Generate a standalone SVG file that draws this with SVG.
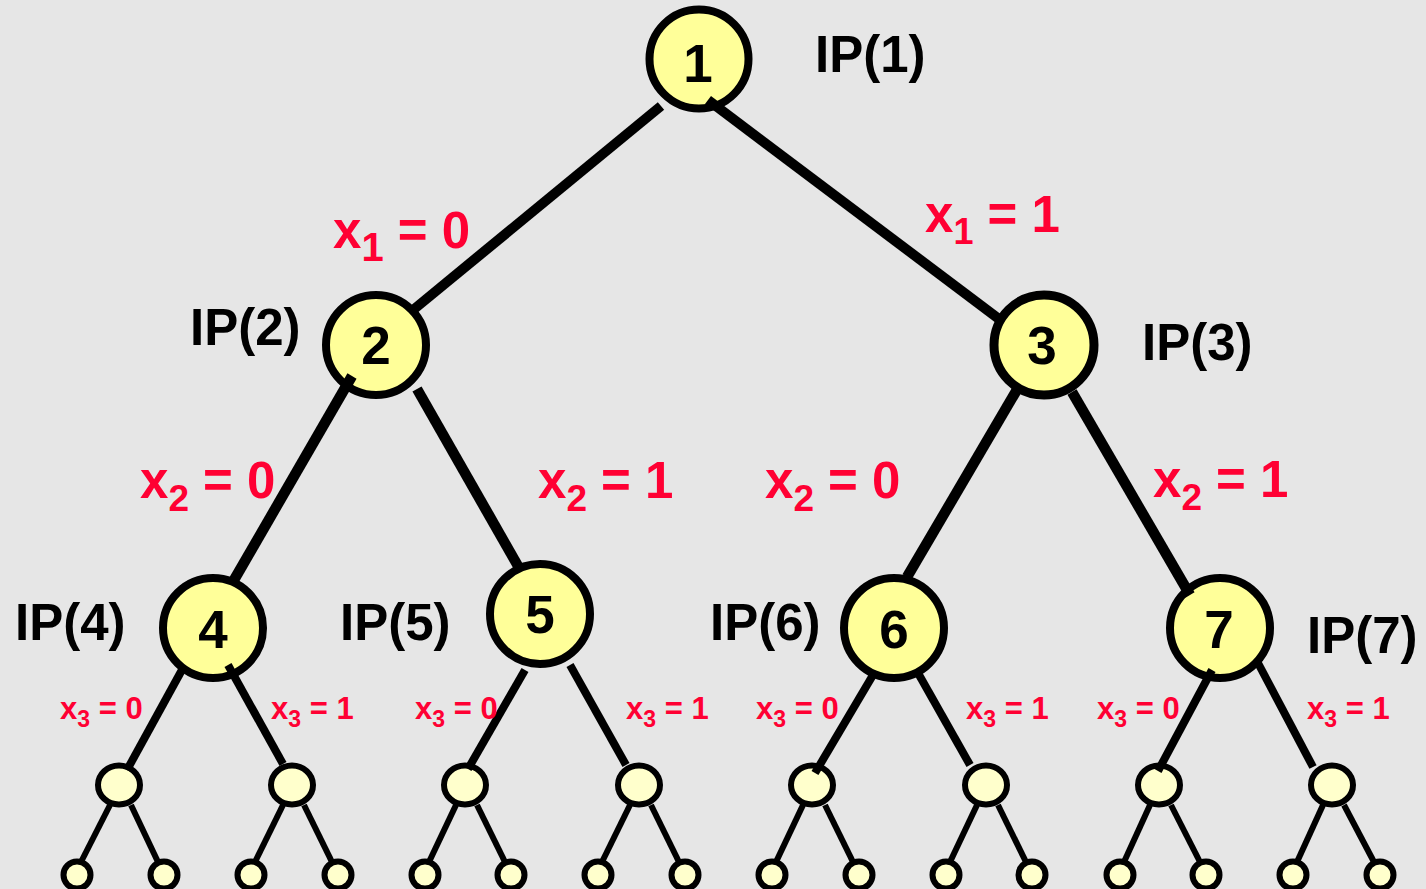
<svg xmlns="http://www.w3.org/2000/svg" width="1426" height="889" viewBox="0 0 1426 889">
<style>
.bg{fill:#e6e6e6}
.big{fill:#ffff99;stroke:#000;stroke-width:8}
.mid{fill:#ffffcc;stroke:#000;stroke-width:6}
.leaf{fill:#ffffcc;stroke:#000;stroke-width:6}
.num{font-family:"Liberation Sans",Arial,sans-serif;font-weight:bold;font-size:53px;fill:#000;text-anchor:middle}
.ip{font-family:"Liberation Sans",Arial,sans-serif;font-weight:bold;font-size:51px;fill:#000}
.lab{font-family:"Liberation Sans",Arial,sans-serif;font-weight:bold;font-size:51px;fill:#ff0033;white-space:pre}
.lab3{font-family:"Liberation Sans",Arial,sans-serif;font-weight:bold;font-size:31px;fill:#ff0033;white-space:pre}
.e1{stroke:#000;stroke-width:10;fill:none}
.e2{stroke:#000;stroke-width:10.5;fill:none}
.e3{stroke:#000;stroke-width:8;fill:none}
.e4{stroke:#000;stroke-width:6;fill:none}
</style>
<rect class="bg" x="0" y="0" width="1426" height="889"/>

<g id="node1"><circle class="big" cx="699" cy="59" r="49.5"/><text class="num" x="698" y="82">1</text></g>
<g id="node2"><circle class="big" cx="376" cy="345" r="50"/><text class="num" x="376" y="364">2</text></g>
<g id="node3"><circle class="big" cx="1044" cy="345" r="50" style="stroke-width:9"/><text class="num" x="1042" y="364">3</text></g>
<g id="node4"><circle class="big" cx="213" cy="628" r="50"/><text class="num" x="213" y="648">4</text></g>
<g id="node5"><circle class="big" cx="540" cy="614" r="50"/><text class="num" x="540" y="633">5</text></g>
<g id="node6"><circle class="big" cx="894" cy="628" r="50"/><text class="num" x="894" y="648">6</text></g>
<g id="node7"><circle class="big" cx="1220" cy="628" r="50"/><text class="num" x="1219" y="648">7</text></g>

<g id="level4">
<ellipse class="mid" cx="119" cy="785" rx="21" ry="19.5"/>
<ellipse class="mid" cx="292" cy="785" rx="21" ry="19.5"/>
<ellipse class="mid" cx="465" cy="785" rx="21" ry="19.5"/>
<ellipse class="mid" cx="639" cy="785" rx="21" ry="19.5"/>
<ellipse class="mid" cx="812" cy="785" rx="21" ry="19.5"/>
<ellipse class="mid" cx="986" cy="785" rx="21" ry="19.5"/>
<ellipse class="mid" cx="1159" cy="785" rx="21" ry="19.5"/>
<ellipse class="mid" cx="1332" cy="785" rx="21" ry="19.5"/>
</g>
<g id="leaves">
<circle class="leaf" cx="77" cy="875" r="13.5"/>
<circle class="leaf" cx="164" cy="875" r="13.5"/>
<circle class="leaf" cx="251" cy="875" r="13.5"/>
<circle class="leaf" cx="338" cy="875" r="13.5"/>
<circle class="leaf" cx="425" cy="875" r="13.5"/>
<circle class="leaf" cx="511" cy="875" r="13.5"/>
<circle class="leaf" cx="598" cy="875" r="13.5"/>
<circle class="leaf" cx="685" cy="875" r="13.5"/>
<circle class="leaf" cx="772" cy="875" r="13.5"/>
<circle class="leaf" cx="859" cy="875" r="13.5"/>
<circle class="leaf" cx="946" cy="875" r="13.5"/>
<circle class="leaf" cx="1032" cy="875" r="13.5"/>
<circle class="leaf" cx="1120" cy="875" r="13.5"/>
<circle class="leaf" cx="1206" cy="875" r="13.5"/>
<circle class="leaf" cx="1293" cy="875" r="13.5"/>
<circle class="leaf" cx="1380" cy="875" r="13.5"/>
</g>

<g id="connectors">
<line class="e1" x1="661" y1="106" x2="413" y2="310"/>
<line class="e1" x1="708" y1="100" x2="999" y2="319"/>
<line class="e2" x1="352" y1="376" x2="234" y2="580"/>
<line class="e2" x1="417" y1="389" x2="518" y2="566"/>
<line class="e2" x1="1018" y1="388" x2="907" y2="577"/>
<line class="e2" x1="1072" y1="392" x2="1190" y2="595"/>
<line class="e3" x1="183" y1="668" x2="127" y2="770"/>
<line class="e3" x1="228" y1="665" x2="283" y2="764"/>
<line class="e3" x1="525" y1="670" x2="468" y2="769"/>
<line class="e3" x1="570" y1="665" x2="626" y2="765"/>
<line class="e3" x1="873" y1="675" x2="815" y2="773"/>
<line class="e3" x1="918" y1="673" x2="970" y2="765"/>
<line class="e3" x1="1212" y1="670" x2="1158" y2="771"/>
<line class="e3" x1="1258" y1="663" x2="1313" y2="767"/>
<line class="e4" x1="110" y1="805" x2="81" y2="862"/>
<line class="e4" x1="131" y1="805" x2="158" y2="862"/>
<line class="e4" x1="283" y1="805" x2="255" y2="862"/>
<line class="e4" x1="304" y1="805" x2="332" y2="862"/>
<line class="e4" x1="456" y1="805" x2="429" y2="862"/>
<line class="e4" x1="477" y1="805" x2="505" y2="862"/>
<line class="e4" x1="630" y1="805" x2="602" y2="862"/>
<line class="e4" x1="651" y1="805" x2="679" y2="862"/>
<line class="e4" x1="803" y1="805" x2="776" y2="862"/>
<line class="e4" x1="825" y1="805" x2="853" y2="862"/>
<line class="e4" x1="977" y1="805" x2="950" y2="862"/>
<line class="e4" x1="998" y1="805" x2="1026" y2="862"/>
<line class="e4" x1="1150" y1="805" x2="1124" y2="862"/>
<line class="e4" x1="1171" y1="805" x2="1200" y2="862"/>
<line class="e4" x1="1323" y1="805" x2="1297" y2="862"/>
<line class="e4" x1="1344" y1="805" x2="1374" y2="862"/>
</g>

<g id="ip-labels">
<text class="ip" x="815" y="72">IP(1)</text>
<text class="ip" x="190" y="345">IP(2)</text>
<text class="ip" x="1142" y="360">IP(3)</text>
<text class="ip" x="15" y="640">IP(4)</text>
<text class="ip" x="340" y="640">IP(5)</text>
<text class="ip" x="710" y="640">IP(6)</text>
<text class="ip" x="1307" y="653">IP(7)</text>
</g>

<g id="edge-labels">
<text class="lab" x="333" y="248">x<tspan font-size="40" dy="13">1</tspan><tspan dy="-13"> = 0</tspan></text>
<text class="lab" x="925" y="232">x<tspan font-size="36" dy="12">1</tspan><tspan dy="-12"> = 1</tspan></text>
<text class="lab" x="140" y="498">x<tspan font-size="37" dy="13">2</tspan><tspan dy="-13"> = 0</tspan></text>
<text class="lab" x="538" y="498">x<tspan font-size="37" dy="13">2</tspan><tspan dy="-13"> = 1</tspan></text>
<text class="lab" x="765" y="498">x<tspan font-size="37" dy="13">2</tspan><tspan dy="-13"> = 0</tspan></text>
<text class="lab" x="1153" y="497">x<tspan font-size="37" dy="13">2</tspan><tspan dy="-13"> = 1</tspan></text>
<text class="lab3" x="60" y="719">x<tspan font-size="23" dy="8">3</tspan><tspan dy="-8"> = 0</tspan></text>
<text class="lab3" x="271" y="719">x<tspan font-size="23" dy="8">3</tspan><tspan dy="-8"> = 1</tspan></text>
<text class="lab3" x="415" y="719">x<tspan font-size="23" dy="8">3</tspan><tspan dy="-8"> = 0</tspan></text>
<text class="lab3" x="626" y="719">x<tspan font-size="23" dy="8">3</tspan><tspan dy="-8"> = 1</tspan></text>
<text class="lab3" x="756" y="719">x<tspan font-size="23" dy="8">3</tspan><tspan dy="-8"> = 0</tspan></text>
<text class="lab3" x="966" y="719">x<tspan font-size="23" dy="8">3</tspan><tspan dy="-8"> = 1</tspan></text>
<text class="lab3" x="1097" y="719">x<tspan font-size="23" dy="8">3</tspan><tspan dy="-8"> = 0</tspan></text>
<text class="lab3" x="1307" y="719">x<tspan font-size="23" dy="8">3</tspan><tspan dy="-8"> = 1</tspan></text>
</g>
</svg>
